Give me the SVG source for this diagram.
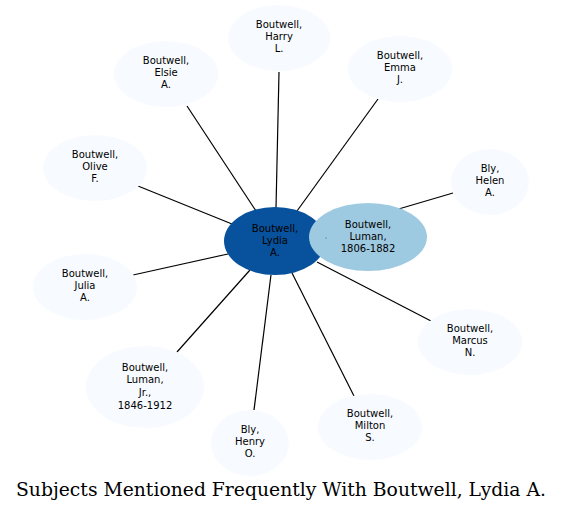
<svg xmlns="http://www.w3.org/2000/svg" width="564" height="512" viewBox="0 0 564 512">
<style>
.n{fill:#f7fbff;stroke:none}
.t{font-family:"DejaVu Sans",sans-serif;font-size:10px;fill:#000;text-anchor:middle}
.e{stroke:#000;stroke-width:1.2;fill:none}
.title{font-family:"DejaVu Serif",serif;font-size:18px;fill:#000;text-anchor:middle}
</style>
<rect width="564" height="512" fill="#fff"/>
<g id="edges">
<line class="e" x1="276" y1="208" x2="279" y2="72"/>
<line class="e" x1="297" y1="211" x2="378" y2="99"/>
<line class="e" x1="256" y1="211" x2="187" y2="106"/>
<line class="e" x1="232" y1="224" x2="138" y2="186"/>
<line class="e" x1="228" y1="254" x2="133" y2="275"/>
<line class="e" x1="250" y1="270" x2="177" y2="352"/>
<line class="e" x1="271" y1="275" x2="254" y2="410"/>
<line class="e" x1="292" y1="273" x2="354" y2="396"/>
<line class="e" x1="317" y1="262" x2="431" y2="321"/>
<line class="e" x1="300" y1="238" x2="453" y2="193"/>
<line class="e" x1="320" y1="239" x2="327" y2="238"/>
</g>
<g id="harry"><ellipse class="n" cx="279" cy="38" rx="51" ry="33"/><text class="t" x="279" y="28">Boutwell,</text><text class="t" x="279" y="40">Harry</text><text class="t" x="279" y="52">L.</text></g>
<g id="emma"><ellipse class="n" cx="400" cy="69" rx="52" ry="33"/><text class="t" x="400" y="59">Boutwell,</text><text class="t" x="400" y="71">Emma</text><text class="t" x="400" y="83">J.</text></g>
<g id="elsie"><ellipse class="n" cx="166" cy="74" rx="52" ry="33"/><text class="t" x="166" y="64">Boutwell,</text><text class="t" x="166" y="76">Elsie</text><text class="t" x="166" y="88">A.</text></g>
<g id="olive"><ellipse class="n" cx="95" cy="168" rx="52" ry="33"/><text class="t" x="95" y="158">Boutwell,</text><text class="t" x="95" y="170">Olive</text><text class="t" x="95" y="182">F.</text></g>
<g id="helen"><ellipse class="n" cx="490" cy="182" rx="39" ry="33"/><text class="t" x="490" y="172">Bly,</text><text class="t" x="490" y="184">Helen</text><text class="t" x="490" y="196">A.</text></g>
<g id="julia"><ellipse class="n" cx="85" cy="287" rx="52" ry="33"/><text class="t" x="85" y="277">Boutwell,</text><text class="t" x="85" y="289">Julia</text><text class="t" x="85" y="301">A.</text></g>
<g id="marcus"><ellipse class="n" cx="470" cy="342" rx="52" ry="33"/><text class="t" x="470" y="332">Boutwell,</text><text class="t" x="470" y="344">Marcus</text><text class="t" x="470" y="356">N.</text></g>
<g id="lumanjr"><ellipse class="n" cx="145" cy="387" rx="59" ry="41"/><text class="t" x="145" y="371">Boutwell,</text><text class="t" x="145" y="383">Luman,</text><text class="t" x="145" y="396">Jr.,</text><text class="t" x="145" y="409">1846-1912</text></g>
<g id="henry"><ellipse class="n" cx="250" cy="443" rx="39" ry="33"/><text class="t" x="250" y="433">Bly,</text><text class="t" x="250" y="445">Henry</text><text class="t" x="250" y="457">O.</text></g>
<g id="milton"><ellipse class="n" cx="370" cy="427" rx="52" ry="33"/><text class="t" x="370" y="417">Boutwell,</text><text class="t" x="370" y="429">Milton</text><text class="t" x="370" y="441">S.</text></g>
<g id="lydia"><ellipse cx="275" cy="241" rx="51" ry="34" fill="#08519c"/><text class="t" x="275" y="232">Boutwell,</text><text class="t" x="275" y="244">Lydia</text><text class="t" x="275" y="256">A.</text></g>
<g id="luman"><ellipse cx="368" cy="237" rx="59" ry="34" fill="#9ecae1"/><text class="t" x="368" y="228">Boutwell,</text><text class="t" x="368" y="240">Luman,</text><text class="t" x="368" y="252">1806-1882</text><circle cx="326" cy="238" r="0.6" fill="#555"/></g>
<text class="title" x="281" y="496" textLength="530" lengthAdjust="spacingAndGlyphs">Subjects Mentioned Frequently With Boutwell, Lydia A.</text>
</svg>
